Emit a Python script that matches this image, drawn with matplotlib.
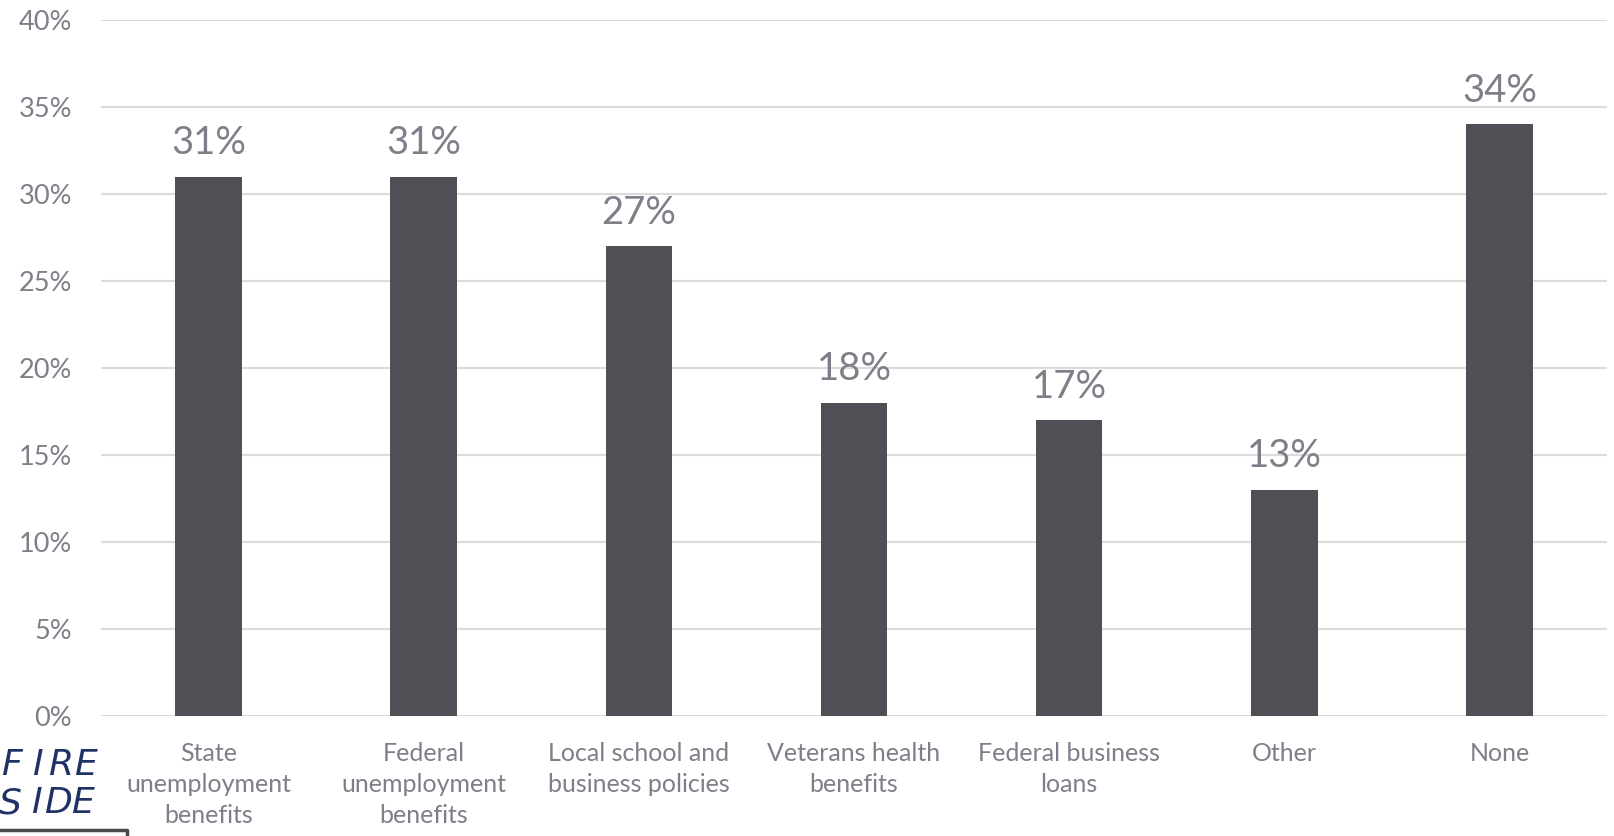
import matplotlib.pyplot as plt
from matplotlib.lines import Line2D


plt.rcParams["font.family"] = ["Lato", "DejaVu Sans"]

categories = [
    "State\nunemployment\nbenefits",
    "Federal\nunemployment\nbenefits",
    "Local school and\nbusiness policies",
    "Veterans health\nbenefits",
    "Federal business\nloans",
    "Other",
    "None",
]
shares = [31, 31, 27, 18, 17, 13, 34]
y_ticks = [0, 5, 10, 15, 20, 25, 30, 35, 40]

BAR_COLOR = "#504f55"
TEXT_COLOR = "#7f7e89"
GRID_COLOR = "#dcdcdc"
NAVY = "#1f3264"


def main():
    fig = plt.figure(figsize=(16.14, 8.36), dpi=100)
    ax = fig.add_axes([101 / 1614, 1 - 716 / 836, 1506 / 1614, 696 / 836])

    xs = list(range(len(categories)))
    ax.bar(xs, shares, width=0.31, color=BAR_COLOR, zorder=3)

    for x, v in zip(xs, shares):
        ax.text(x, v + 0.9, f"{v}%", ha="center", va="bottom",
                fontsize=27.5, color=TEXT_COLOR)

    ax.set_xlim(-0.5, len(categories) - 0.5)
    ax.set_ylim(0, 40)
    ax.set_yticks(y_ticks)
    ax.set_yticklabels([f"{t}%" for t in y_ticks])
    ax.set_xticks(xs)
    ax.set_xticklabels(categories, linespacing=1.42)

    ax.tick_params(axis="y", length=0, pad=21, labelsize=19.5, labelcolor=TEXT_COLOR)
    ax.tick_params(axis="x", length=0, pad=19, labelsize=18, labelcolor=TEXT_COLOR)
    ax.grid(axis="y", color=GRID_COLOR, linewidth=1.5, zorder=0)
    for s in ax.spines.values():
        s.set_visible(False)

    # logo in the lower left corner, letter by letter for the wide tracking
    for cx, ch in zip([11, 37, 61, 85], "FIRE"):
        fig.text(cx / 1614, 1 - 775 / 836, ch, fontsize=26, style="italic",
                 color=NAVY, family="DejaVu Sans", ha="center")
    for cx, ch in zip([10, 36, 58, 82], "SIDE"):
        fig.text(cx / 1614, 1 - 813 / 836, ch, fontsize=26, style="italic",
                 color=NAVY, family="DejaVu Sans", ha="center")
    fig.add_artist(Line2D([0, 127 / 1614, 127 / 1614],
                          [1 - 830 / 836, 1 - 830 / 836, 0],
                          transform=fig.transFigure, color="#4a4a4f", linewidth=2.5))

    fig.savefig("out.png", dpi=100)


if __name__ == "__main__":
    main()
